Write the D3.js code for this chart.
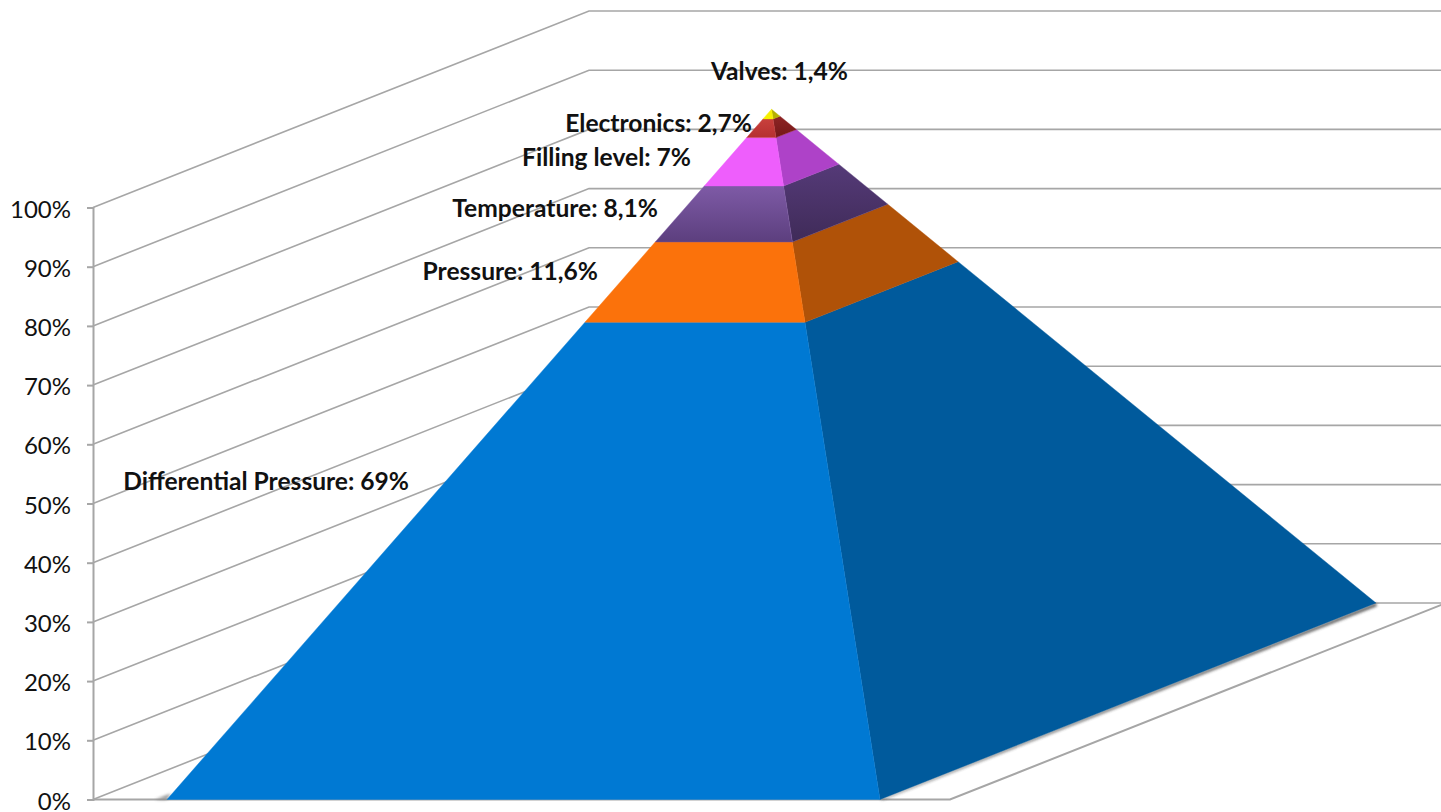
<!DOCTYPE html>
<html><head><meta charset="utf-8">
<script src="https://cdnjs.cloudflare.com/ajax/libs/d3/7.8.5/d3.min.js"></script>
<style>html,body{margin:0;padding:0;background:#fff;overflow:hidden}svg{display:block}
text{font-family:Lato,"Open Sans",sans-serif;fill:#111}</style></head><body>
<svg id="c" width="1441" height="812"></svg>
<script>
const categories=["Differential Pressure","Pressure","Temperature","Filling level","Electronics","Valves"];
const seriesValues=[69,11.6,8.1,7,2.7,1.4];
const axisTicks=[0,10,20,30,40,50,60,70,80,90,100];
const frontTop=["#0079d3","#fb720b","#7e5aa6","#ee5efc","#c8403c","#f6f000"];
const frontBottom=["#0079d3","#fb720b","#5c3f7e","#ee5efc","#b53030","#f6f000"];
const sideTop=["#005a9c","#b05208","#553a78","#ae42c8","#8e2424","#b5b000"];
const sideBottom=["#005a9c","#b05208","#3f2b58","#ae42c8","#741818","#b5b000"];
const labelAnchors=[[409,481],[598,271],[658,208],[691,157],[752,123],[848,71]];

const svg=d3.select("#c"),defs=svg.append("defs");
const y=d3.scaleLinear().domain([0,100]).range([799.5,207.5]);
const u=d3.scaleLinear().domain([0,1]).range([167,880]);
const wall=d3.scaleLinear().domain([0,1]).range([93,950]);
const dx=d3.scaleLinear().domain([0,1]).range([0,496]);
const dy=d3.scaleLinear().domain([0,1]).range([0,-196.5]);
const line=d3.line();
const grey="#a6a6a6";

// walls and floor
const g=svg.append("g").attr("fill","none").attr("stroke",grey);
axisTicks.forEach(v=>{
  const p0=[wall(0),y(v)],p1=[wall(0)+dx(1),y(v)+dy(1)];
  g.append("path").attr("d",line([p0,p1,[wall(1)+dx(1),p1[1]]])).attr("stroke-width",1.6);
});
g.append("path").attr("stroke-width",2)
 .attr("d",line([[wall(0),y(0)],[wall(1),y(0)],[wall(1)+dx(1),y(0)+dy(1)]]));

// axis
const ax=svg.append("g").attr("transform",`translate(${wall(0)},0)`)
 .call(d3.axisLeft(y).tickValues(axisTicks).tickFormat(d=>d+"%").tickSize(6).tickPadding(16));
ax.selectAll("path,line").attr("stroke",grey).attr("stroke-width",2);
ax.selectAll("text").attr("font-size",24).attr("dy","0.4em").attr("fill","#111");

// pyramid geometry
const total=d3.sum(seriesValues);
const cum=d3.cumsum(seriesValues).map(d=>d/total);
const lv=t=>y(t*100);
const pt=(a,d,t)=>[u(a)+dx(d),lv(t)+dy(d)];
const fl=t=>pt(t/2,t/2,t),fr=t=>pt(1-t/2,t/2,t),br=t=>pt(1-t/2,1-t/2,t);

// shadow
defs.append("filter").attr("id","sh").attr("x","-5%").attr("y","-50%").attr("width","110%").attr("height","200%")
 .append("feGaussianBlur").attr("stdDeviation",1.6);
svg.append("path").attr("filter","url(#sh)").attr("fill","#333").attr("opacity",.85)
 .attr("d",line([[fr(0)[0]+3,fr(0)[1]],[br(0)[0]+1,br(0)[1]+3],br(0),fr(0)])+"Z");
svg.append("path").attr("filter","url(#sh)").attr("fill","#777").attr("opacity",.8)
 .attr("d",line([[fl(0)[0]-12,fl(0)[1]],[fl(0)[0]+4,fl(0)[1]-6],fl(0)])+"Z");

const grad=(id,a,b)=>{const lg=defs.append("linearGradient").attr("id",id).attr("x1",0).attr("x2",0).attr("y1",0).attr("y2",1);
 lg.append("stop").attr("offset",0).attr("stop-color",a);lg.append("stop").attr("offset",1).attr("stop-color",b);};

categories.forEach((c,i)=>{
  const t0=i?cum[i-1]:0,t1=cum[i];
  grad("f"+i,frontTop[i],frontBottom[i]);grad("s"+i,sideTop[i],sideBottom[i]);
  svg.append("path").attr("fill",`url(#s${i})`).attr("stroke",sideTop[i]).attr("stroke-width",.4)
    .attr("d",line([fr(t0),br(t0),br(t1),fr(t1)])+"Z");
  svg.append("path").attr("fill",`url(#f${i})`).attr("stroke",frontTop[i]).attr("stroke-width",.4)
    .attr("d",line([fl(t0),fr(t0),fr(t1),fl(t1)])+"Z");
});

// labels
svg.append("g").selectAll("text").data(categories).join("text")
 .attr("x",(d,i)=>labelAnchors[i][0]).attr("y",(d,i)=>labelAnchors[i][1])
 .attr("dy","0.37em").attr("text-anchor","end").attr("font-size",24.6).attr("font-weight",700)
 .text((d,i)=>`${d}: ${String(seriesValues[i]).replace(".",",")}%`);
</script></body></html>
